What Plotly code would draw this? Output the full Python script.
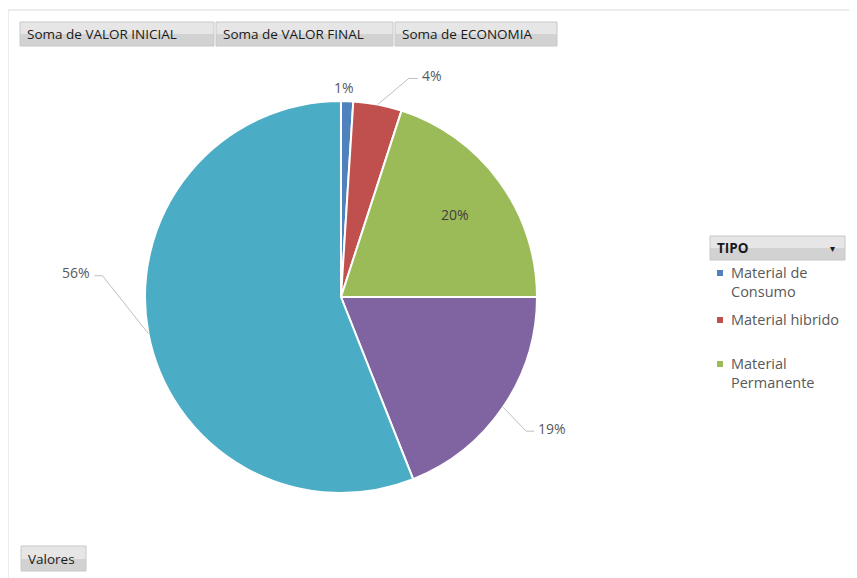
import math
import plotly.graph_objects as go

# ---- data ----
categories = ["Material de Consumo", "Material hibrido", "Material Permanente", "Outros", "(vazio)"]
values = [1, 4, 20, 19, 56]
pct_labels = ["1%", "4%", "20%", "19%", "56%"]
legend_labels = ["Material de<br>Consumo", "Material hibrido", "Material<br>Permanente"]
buttons = ["Soma de VALOR INICIAL", "Soma de VALOR FINAL", "Soma de ECONOMIA"]

# ---- style ----
colors = ["#4F81BD", "#C0504D", "#9BBB59", "#8064A2", "#4BACC6"]
OFF = 8  # browser body margin
W, H = 857 - OFF, 578 - OFF
CX, CY, R = 341, 297, 196
FONT = "Open Sans"
TXT = "#595959"


def px(x):
    return (x - OFF) / W


def py(y):
    return 1 - (y - OFF) / H


fig = go.Figure()
fig.add_trace(go.Pie(
    labels=categories, values=values, sort=False, direction="clockwise", rotation=0,
    marker=dict(colors=colors, line=dict(color="white", width=2)),
    textinfo="none", hoverinfo="label+percent", showlegend=False,
    domain=dict(x=[px(CX - R), px(CX + R)], y=[py(CY + R), py(CY - R)]),
))

shapes = []
annotations = []


def ann(x, y, text, size, color, xa="center", ya="middle", align="left"):
    annotations.append(dict(x=px(x), y=py(y), text=text, showarrow=False, xref="paper", yref="paper",
                            xanchor=xa, yanchor=ya, align=align,
                            font=dict(family=FONT, size=size, color=color)))


# slice label placement (style): mode, and pixel offsets
label_style = [("top", -14), ("lead", 31, -26, 9), ("in", 0.72), ("lead", 23, 24, 8), ("lead", -46, -58, -8)]
total = sum(values)
cum = 0
for v, lab, st in zip(values, pct_labels, label_style):
    mid = (cum + v / 2) / total * 2 * math.pi
    cum += v
    ex, ey = CX + R * math.sin(mid), CY - R * math.cos(mid)
    if st[0] == "in":
        lx, ly = CX + st[1] * R * math.sin(mid), CY - st[1] * R * math.cos(mid)
        ann(lx, ly, lab, 14, "#404040")
    elif st[0] == "top":
        ann(ex - 3, ey + st[1], lab, 14, TXT)
    else:
        bx, by = ex + st[1], ey + st[2]
        hx = bx + st[3]
        path = f"M {px(ex)} {py(ey)} L {px(bx)} {py(by)} L {px(hx)} {py(by)}"
        shapes.append(dict(type="path", xref="paper", yref="paper", path=path,
                           line=dict(color="#BFBFBF", width=1)))
        ann(hx + (2 if st[3] > 0 else -2), by - 3, lab, 14, TXT, xa="left" if st[3] > 0 else "right")

# outer frame lines
shapes.append(dict(type="line", xref="paper", yref="paper", x0=px(8), x1=1, y0=py(10), y1=py(10),
                   line=dict(color="#DADADA", width=1)))
shapes.append(dict(type="line", xref="paper", yref="paper", x0=px(8), x1=px(8), y0=py(10), y1=0,
                   line=dict(color="#DADADA", width=1)))


def button(x0, x1, y0, y1, text, arrow=False):
    ym = (y0 + y1) / 2
    shapes.append(dict(type="rect", xref="paper", yref="paper", x0=px(x0), x1=px(x1), y0=py(y1), y1=py(ym),
                       fillcolor="#D2D2D2", line=dict(width=0), layer="below"))
    shapes.append(dict(type="rect", xref="paper", yref="paper", x0=px(x0), x1=px(x1), y0=py(ym), y1=py(y0),
                       fillcolor="#E6E6E6", line=dict(width=0), layer="below"))
    shapes.append(dict(type="rect", xref="paper", yref="paper", x0=px(x0), x1=px(x1), y0=py(y1), y1=py(y0),
                       fillcolor="rgba(0,0,0,0)", line=dict(color="#C8C8C8", width=1)))
    ann(x0 + 5, ym, text, 13.5, "#1A1A1A", xa="left")
    if arrow:
        ann(x1 - 13, ym, "▾", 10, "#1A1A1A")


bxs = [(20, 214), (216, 393), (395, 557)]
for (x0, x1), t in zip(bxs, buttons):
    button(x0, x1, 22, 46, t)
button(21, 86, 546, 571, "Valores")
button(710, 845, 236, 260, "<b>TIPO</b>", arrow=True)

# manual legend (only first three categories shown)
leg_y = [273, 320, 364]
for c, t, y in zip(colors[:3], legend_labels, leg_y):
    shapes.append(dict(type="rect", xref="paper", yref="paper", x0=px(717), x1=px(723), y0=py(y + 3), y1=py(y - 3),
                       fillcolor=c, line=dict(width=0)))
    ann(729, y - 12, t, 14.5, TXT, xa="left", ya="top")

fig.update_layout(
    width=W, height=H, margin=dict(l=0, r=0, t=0, b=0),
    paper_bgcolor="white", plot_bgcolor="white",
    shapes=shapes, annotations=annotations, showlegend=False,
)
fig.write_html("out.html")
